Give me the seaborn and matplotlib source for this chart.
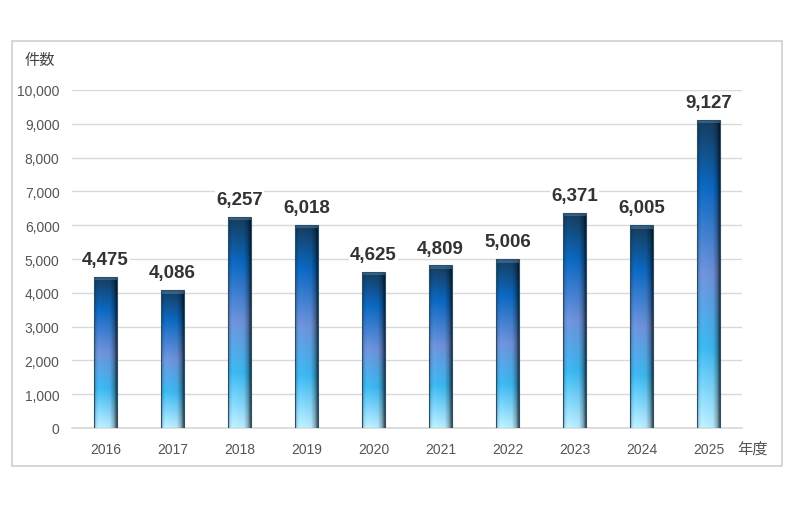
import numpy as np
import pandas as pd
import seaborn as sns
import matplotlib.pyplot as plt
from matplotlib.colors import to_rgb
from matplotlib.patches import Rectangle

sns.set_theme(style="white")
plt.rcParams['font.family'] = ['Noto Sans CJK JP', 'DejaVu Sans']

# data
years = ["2016", "2017", "2018", "2019", "2020", "2021", "2022", "2023", "2024", "2025"]
counts = [4475, 4086, 6257, 6018, 4625, 4809, 5006, 6371, 6005, 9127]
y_ticks = [0, 1000, 2000, 3000, 4000, 5000, 6000, 7000, 8000, 9000, 10000]

df = pd.DataFrame({"year": years, "count": counts})

fig = plt.figure(figsize=(8, 5.1), dpi=100)
ax = fig.add_axes([72 / 800, 1 - 429 / 510, 670 / 800, 338 / 510])

# outer frame
fig.patches.append(Rectangle((12 / 800, 1 - 467 / 510), 770 / 800, 425 / 510,
                             transform=fig.transFigure, fill=False,
                             edgecolor="#cfcfcf", linewidth=1.2, zorder=0))

sns.barplot(data=df, x="year", y="count", width=0.33, color="#1a6fc0",
            edgecolor="none", ax=ax, zorder=3)

ax.set_xlim(-0.5, 9.5)
ax.set_ylim(0, 10000)

# vertical colour ramp, top -> bottom
stops = [(0.0, "#163a58"), (0.22, "#0b66bd"), (0.5, "#6c8fd6"),
         (0.74, "#3ab3ea"), (1.0, "#b8e9fc")]
n = 200
t = np.linspace(0, 1, n)
pos = [s[0] for s in stops]
cols = np.array([to_rgb(s[1]) for s in stops])
vert = np.stack([np.interp(t, pos, cols[:, k]) for k in range(3)], axis=1)

xs = np.linspace(0, 1, 40)
shade = np.interp(xs, [0, 0.08, 0.2, 0.7, 0.88, 1.0], [0.7, 0.95, 1.05, 1.0, 0.75, 0.35])
grad = np.clip(vert[:, None, :] * shade[None, :, None], 0, 1)

for bar in ax.patches:
    x0, w, h = bar.get_x(), bar.get_width(), bar.get_height()
    im = ax.imshow(grad, extent=[x0, x0 + w, 0, h], aspect="auto",
                   origin="upper", zorder=4, interpolation="bilinear")
    im.set_clip_path(bar)
    # light bevel at the top of each bar
    ax.add_patch(Rectangle((x0, h - 110), w, 110, facecolor="#5d8bb0",
                           edgecolor="none", alpha=0.45, zorder=4.5))
    ax.add_patch(Rectangle((x0, 0), w, h, fill=False, edgecolor="#2a4f6a",
                           linewidth=0.8, zorder=5))
ax.set_xlim(-0.5, 9.5)
ax.set_ylim(0, 10000)

# value labels
for i, v in enumerate(counts):
    ax.text(i, v + 260, f"{v:,}", ha="center", va="bottom", fontsize=13.5,
            fontweight="bold", color="#333333", zorder=6,
            family=["Liberation Sans", "DejaVu Sans"],
            bbox=dict(facecolor="white", edgecolor="none", pad=1))

ax.set_yticks(y_ticks)
ax.set_yticklabels([f"{v:,}" for v in y_ticks])
ax.yaxis.grid(True, color="#d9d9d9", linewidth=1)
ax.set_axisbelow(True)
ax.tick_params(axis="both", colors="#555555", labelsize=10, length=0)
ax.tick_params(axis="x", pad=10)
ax.tick_params(axis="y", pad=9)
for lab in ax.get_xticklabels() + ax.get_yticklabels():
    lab.set_family(["Liberation Sans", "DejaVu Sans"])
ax.set_xlabel("")
ax.set_ylabel("")
sns.despine(ax=ax, left=True, top=True, right=True, bottom=False)
ax.spines["bottom"].set_color("#d9d9d9")

fig.text(40 / 800, 1 - 61 / 510, "件数", ha="center", va="center",
         fontsize=11, color="#444444")
fig.text(752 / 800, 1 - 449 / 510, "年度", ha="center", va="center",
         fontsize=11, color="#555555")

fig.savefig("out.png", dpi=100, facecolor="white")
